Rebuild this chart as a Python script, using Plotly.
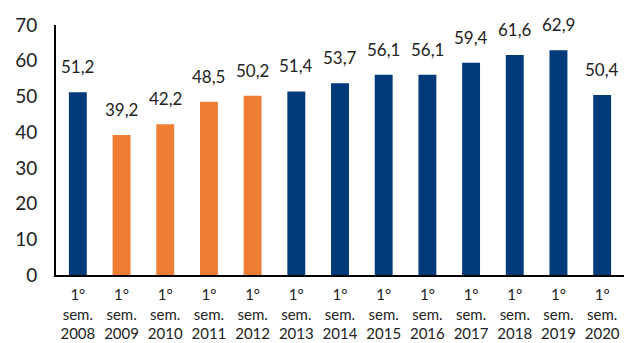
import plotly.graph_objects as go

periods = ["2008", "2009", "2010", "2011", "2012", "2013", "2014",
           "2015", "2016", "2017", "2018", "2019", "2020"]
values = [51.2, 39.2, 42.2, 48.5, 50.2, 51.4, 53.7, 56.1, 56.1, 59.4, 61.6, 62.9, 50.4]
highlight = [False, True, True, True, True, False, False,
             False, False, False, False, False, False]

BLUE = "#023A7A"
ORANGE = "#EE7E33"

labels = ["1°<br>sem.<br>" + p for p in periods]
colors = [ORANGE if h else BLUE for h in highlight]

fig = go.Figure(go.Bar(
    x=labels,
    y=values,
    marker=dict(color=colors, line=dict(width=0)),
))

# value labels above each bar, comma as decimal separator
for lab, v in zip(labels, values):
    fig.add_annotation(
        x=lab, y=v, text=f"{v:.1f}".replace(".", ","),
        showarrow=False, yanchor="bottom", yshift=13,
        font=dict(size=17, color="#222222"),
    )

fig.update_layout(
    width=624, height=343,
    margin=dict(l=56, r=0, t=25, b=68),
    paper_bgcolor="white", plot_bgcolor="white",
    separators=",.",
    bargap=0.59,
    font=dict(family="Lato, 'Open Sans', sans-serif", color="#222222"),
    showlegend=False,
    xaxis=dict(
        showline=True, linecolor="black", linewidth=2,
        tickfont=dict(size=15),
        ticks="", showgrid=False,
        ticklabelstandoff=5,
        automargin=False,
    ),
    yaxis=dict(
        range=[0, 70], dtick=10,
        showline=True, linecolor="black", linewidth=2,
        showgrid=False, zeroline=False,
        tickfont=dict(size=19),
        ticks="outside", ticklen=13, tickcolor="white",
        automargin=False,
    ),
)

fig.write_html("out.html")
